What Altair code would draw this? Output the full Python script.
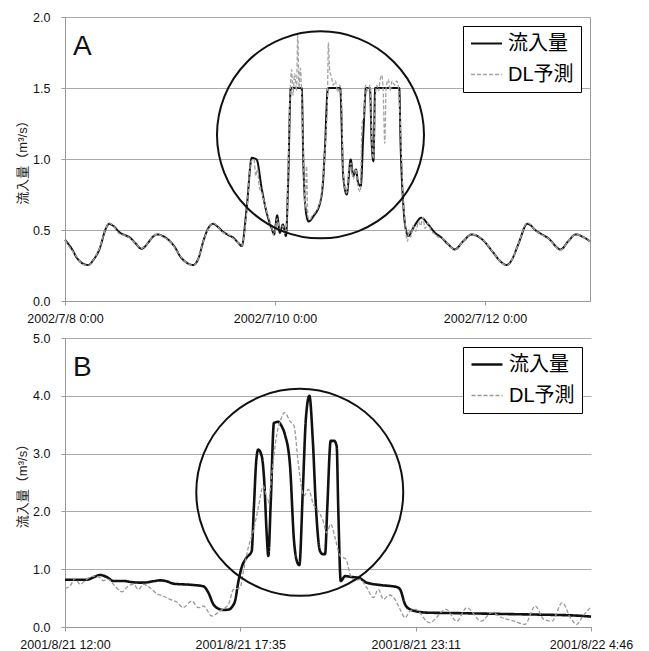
import altair as alt
import pandas as pd

SERIES = ["流入量", "DL予測"]
FONT = "Liberation Sans, Noto Sans CJK JP"
Y_TITLE = "流入量（m³/s）"
TIME_FORMAT = "%Y/%-m/%-d %-H:%M"

# ---------------- Panel A (hours after start) ----------------
A_LABEL = "A"
A_START = "2002-07-08 00:00"
A_END = "2002-07-13 00:00"
A_TICKS = ["2002-07-08 00:00", "2002-07-10 00:00", "2002-07-12 00:00"]
A_YTICKS = [0.0, 0.5, 1.0, 1.5, 2.0]
A_YDOMAIN = [0, 2]
A_CIRCLE = ["2002-07-10 10:24", 1.17]

a_obs_h = [0, 1.5, 2.7, 4, 5.3, 6.5, 8, 9.2, 10.1, 11, 12.6, 14, 14.9, 16, 17.5, 19, 20, 21.1,
           22.5, 24, 25.2, 26.3, 27.8, 29.3, 30.5, 31.6, 32.8, 33.9, 35, 36.2, 37.3, 38.5, 39.6,
           40.4, 41.5, 42.7, 43.8, 45, 46.1, 47.2, 47.8, 48.5, 49.1, 49.8, 50.5, 51.0, 51.6, 54.1,
           54.5, 55.1, 55.7, 56.8, 58.3, 59.0, 59.4, 60.1, 62.9, 63.6, 64.4, 65.3, 65.9, 66.5,
           67.0, 67.6, 68.2, 68.8, 69.7, 70.1, 70.5, 70.9, 76.4, 76.7, 77.3, 77.9, 78.5, 79.6,
           81.5, 83.0, 84.6, 86.1, 87.6, 89.1, 91.0, 93.0, 95.6, 97.9, 99.5, 101, 102.3, 103.6,
           105.7, 107.8, 110.5, 113.3, 115, 116.8, 118.5, 120]
a_obs_v = [0.43, 0.37, 0.305, 0.265, 0.253, 0.29, 0.375, 0.5, 0.544, 0.53, 0.48, 0.46, 0.445,
           0.41, 0.368, 0.41, 0.45, 0.469, 0.455, 0.42, 0.375, 0.316, 0.27, 0.253, 0.3, 0.42,
           0.515, 0.544, 0.52, 0.485, 0.465, 0.445, 0.41, 0.387, 0.645, 1.008, 0.996, 0.785,
           0.621, 0.515, 0.469, 0.603, 0.48, 0.539, 0.457, 0.832, 1.5, 1.5, 0.949, 0.621, 0.56,
           0.598, 0.691, 0.85, 1.067, 1.5, 1.5, 0.879, 0.75, 0.996, 0.879, 0.926, 0.832, 0.809,
           1.184, 1.5, 1.5, 1.113, 0.985, 1.5, 1.5, 1.113, 0.691, 0.504, 0.457, 0.515, 0.586,
           0.539, 0.48, 0.445, 0.399, 0.363, 0.42, 0.469, 0.427, 0.34, 0.28, 0.253, 0.3, 0.399,
           0.544, 0.492, 0.441, 0.363, 0.42, 0.469, 0.45, 0.42]

a_dl_h = [0, 1.5, 2.7, 4, 5.3, 6.5, 8, 9.2, 10.1, 11, 12.6, 14, 14.9, 16, 17.5, 19, 20, 21.1,
          22.5, 24, 25.2, 26.3, 27.8, 29.3, 30.5, 31.6, 32.8, 33.9, 35, 36.2, 37.3, 38.5, 39.6,
          40.4, 41.5, 42.5, 43.2, 43.6, 44.0, 44.4, 45, 46.1, 47.2, 47.8, 48.5, 49.1, 49.8, 50.3,
          50.7, 51.0, 51.4, 51.8, 52.1, 52.5, 52.9, 53.2, 53.5, 53.8, 54.1, 54.5, 54.9, 55.2,
          55.5, 55.9, 56.5, 57.3, 58.3, 59.0, 59.5, 60.0, 60.2, 60.5, 60.9, 61.3, 61.8, 62.3,
          62.8, 63.2, 63.6, 64.4, 65.0, 65.4, 65.9, 66.5, 67.0, 67.5, 67.9, 68.3, 68.7, 69.2,
          69.7, 70.1, 70.5, 70.9, 71.3, 71.7, 72.0, 72.4, 72.7, 73.1, 73.4, 73.9, 74.3, 74.8,
          75.3, 75.8, 76.3, 76.7, 77.0, 77.3, 77.6, 77.9, 78.3, 78.6, 79.0, 79.6, 80.2, 80.8,
          81.3, 81.8, 82.3, 83.0, 83.6, 84.6, 85.3, 86.1, 87.6, 89.1, 91.0, 93.0, 95.6, 97.9,
          99.5, 101, 102.3, 103.6, 105.7, 107.8, 110.5, 113.3, 115, 116.8, 118.5, 120]
a_dl_v = [0.43, 0.36, 0.31, 0.26, 0.25, 0.29, 0.38, 0.5, 0.55, 0.53, 0.47, 0.46, 0.44, 0.41,
          0.37, 0.41, 0.45, 0.47, 0.45, 0.42, 0.37, 0.32, 0.27, 0.25, 0.3, 0.42, 0.51, 0.55, 0.52,
          0.48, 0.47, 0.44, 0.41, 0.39, 0.62, 0.98, 1.0, 0.88, 0.93, 0.8, 0.76, 0.63, 0.52, 0.46,
          0.58, 0.5, 0.53, 0.47, 0.57, 0.9, 1.4, 1.63, 1.45, 1.6, 1.48, 1.87, 1.5, 1.64, 1.45,
          1.0, 0.65, 0.95, 0.6, 0.57, 0.6, 0.63, 0.7, 0.87, 1.1, 1.45, 1.82, 1.62, 1.58, 1.52,
          1.55, 1.47, 1.52, 1.4, 0.9, 0.76, 0.95, 0.97, 0.86, 0.93, 0.8, 0.77, 1.25, 1.3, 1.52,
          1.48, 1.52, 1.15, 1.0, 1.42, 1.52, 1.48, 1.55, 1.59, 1.5, 1.11, 1.5, 1.56, 1.48, 1.55,
          1.52, 1.55, 1.48, 1.2, 0.95, 0.7, 0.6, 0.48, 0.42, 0.5, 0.45, 0.53, 0.49, 0.56, 0.53,
          0.59, 0.51, 0.55, 0.5, 0.47, 0.45, 0.445, 0.4, 0.36, 0.42, 0.47, 0.43, 0.34, 0.28, 0.25,
          0.3, 0.4, 0.55, 0.49, 0.44, 0.36, 0.42, 0.47, 0.45, 0.42]

# ---------------- Panel B (hours after start) ----------------
B_LABEL = "B"
B_START = "2001-08-21 12:00"
B_END = "2001-08-22 04:46"
B_TICKS = ["2001-08-21 12:00", "2001-08-21 17:35", "2001-08-21 23:11", "2001-08-22 04:46"]
B_YTICKS = [0.0, 1.0, 2.0, 3.0, 4.0, 5.0]
B_YDOMAIN = [0, 5]
B_CIRCLE = ["2001-08-21 19:29", 2.33]

b_obs_h = [0, 0.69, 0.95, 1.12, 1.33, 1.54, 1.86, 2.18, 2.5, 2.8, 3.03, 3.25, 3.45, 4.09, 4.41,
           4.57, 4.73, 4.89, 5.05, 5.21, 5.34, 5.42, 5.53, 5.63, 5.79, 5.95, 6.02, 6.1, 6.16,
           6.27, 6.35, 6.43, 6.48, 6.56, 6.66, 6.8, 6.9, 7.01, 7.17, 7.3, 7.39, 7.47, 7.58, 7.68,
           7.79, 7.9, 8.0, 8.13, 8.22, 8.29, 8.36, 8.47, 8.58, 8.66, 8.71, 8.79, 8.93, 9.14, 9.35,
           9.62, 10.04, 10.57, 10.68, 10.84, 11.0, 11.3, 11.55, 12.5, 13.5, 14.5, 15.5, 16.2,
           16.77]
b_obs_v = [0.818, 0.818, 0.87, 0.9, 0.865, 0.796, 0.796, 0.773, 0.767, 0.79, 0.807, 0.79, 0.75,
           0.727, 0.704, 0.594, 0.392, 0.317, 0.295, 0.3, 0.36, 0.45, 0.796, 1.03, 1.2, 1.31,
           2.06, 2.9, 3.07, 2.96, 2.53, 1.6, 1.23, 2.18, 3.53, 3.55, 3.48, 3.33, 2.81, 1.49, 1.14,
           1.07, 2.35, 3.62, 4.0, 3.22, 2.06, 1.31, 1.26, 1.26, 2.06, 3.22, 3.22, 3.13, 2.06,
           0.796, 0.88, 0.865, 0.853, 0.767, 0.727, 0.692, 0.652, 0.392, 0.306, 0.26, 0.248,
           0.24, 0.23, 0.22, 0.21, 0.2, 0.18]

b_dl_h = [0, 0.16, 0.32, 0.48, 0.64, 0.8, 0.96, 1.12, 1.22, 1.38, 1.59, 1.81, 2.02, 2.18, 2.34,
          2.5, 2.71, 2.92, 3.13, 3.35, 3.56, 3.77, 4.04, 4.25, 4.41, 4.68, 4.94, 5.21, 5.37,
          5.58, 5.69, 5.84, 6.0, 6.16, 6.32, 6.48, 6.59, 6.75, 6.86, 7.0, 7.17, 7.3, 7.44, 7.62,
          7.76, 7.92, 8.07, 8.23, 8.34, 8.47, 8.61, 8.77, 8.96, 9.09, 9.25, 9.4, 9.62, 9.83,
          9.99, 10.15, 10.34, 10.52, 10.68, 10.84, 11.0, 11.16, 11.62, 12.15, 12.48, 12.81,
          13.27, 13.6, 13.93, 14.33, 14.66, 14.99, 15.26, 15.52, 15.85, 16.11, 16.31, 16.51,
          16.77]
b_dl_v = [0.67, 0.71, 0.84, 0.74, 0.8, 0.865, 0.88, 0.853, 0.8, 0.825, 0.71, 0.61, 0.71, 0.74,
          0.65, 0.74, 0.68, 0.576, 0.536, 0.479, 0.432, 0.334, 0.45, 0.334, 0.363, 0.19, 0.277,
          0.392, 0.65, 0.68, 0.97, 1.37, 1.66, 2.06, 2.44, 2.15, 2.64, 3.33, 3.56, 3.71, 3.56,
          3.48, 2.81, 2.27, 2.38, 2.12, 2.01, 1.83, 1.63, 1.78, 1.54, 1.23, 1.17, 0.91, 0.8,
          0.825, 0.68, 0.507, 0.65, 0.479, 0.554, 0.479, 0.306, 0.161, 0.277, 0.306, 0.075,
          0.306, 0.1, 0.334, 0.1, 0.248, 0.16, 0.1, 0.046, 0.363, 0.133, 0.1, 0.42, 0.16, 0.046,
          0.19, 0.346]


def dt(s):
    ts = pd.Timestamp(s)
    return alt.DateTime(year=ts.year, month=ts.month, date=ts.day, hours=ts.hour, minutes=ts.minute)


def frame(start, hours, values, name):
    return pd.DataFrame({
        "t": pd.Timestamp(start) + pd.to_timedelta(hours, unit="h"),
        "v": values,
        "series": name,
    })


def panel(label, start, end, ticks, yticks, ydomain, circle, obs_h, obs_v, dl_h, dl_v,
          obs_w, dl_color, w, h, view_stroke):
    x = alt.X("t:T",
              scale=alt.Scale(domain=[dt(start), dt(end)], nice=False),
              axis=alt.Axis(values=[dt(s) for s in ticks], format=TIME_FORMAT, title=None,
                            grid=False, labelFlush=False, labelOverlap=False, tickSize=4,
                            labelPadding=7, labelFont=FONT, labelFontSize=12.5, labelColor="#111",
                            domainColor="#999", tickColor="#999"))
    y = alt.Y("v:Q",
              scale=alt.Scale(domain=ydomain, nice=False),
              axis=alt.Axis(values=yticks, format=".1f", title=Y_TITLE, titleFont=FONT,
                            titleFontSize=13, titleFontWeight="normal", titleColor="#222",
                            titlePadding=3, labelFont=FONT, labelFontSize=12.5, labelColor="#111",
                            labelPadding=11, tickSize=4, gridColor="#aaa", domainColor="#999",
                            tickColor="#999"))
    leg = alt.Legend(orient="top-right", offset=9, title=None, symbolType="stroke",
                     symbolSize=961, labelFont=FONT, labelFontSize=20, labelColor="#000",
                     labelOffset=5, padding=7, rowPadding=10, clipHeight=21,
                     strokeColor="#000", fillColor="#fff")
    color = alt.Color("series:N", scale=alt.Scale(domain=SERIES, range=["#111", dl_color]),
                      legend=leg)
    dash = alt.StrokeDash("series:N", scale=alt.Scale(domain=SERIES, range=[[1, 0], [4, 2]]),
                          legend=leg)
    width = alt.StrokeWidth("series:N", scale=alt.Scale(domain=SERIES, range=[obs_w, 1.3]),
                            legend=leg)

    obs = alt.Chart(frame(start, obs_h, obs_v, SERIES[0])).mark_line(
        interpolate="monotone").encode(x=x, y=y, color=color, strokeDash=dash, strokeWidth=width)
    dl = alt.Chart(frame(start, dl_h, dl_v, SERIES[1])).mark_line(
        interpolate="monotone").encode(x=x, y=y, color=color, strokeDash=dash, strokeWidth=width)
    circ_df = pd.DataFrame({"t": [pd.Timestamp(circle[0])], "v": [circle[1]]})
    circ = alt.Chart(circ_df).mark_point(shape="circle", filled=False, size=42849,
                                         color="#111", strokeWidth=2, opacity=1).encode(
        x="t:T", y="v:Q")
    txt = alt.Chart(pd.DataFrame({"label": [label]})).mark_text(
        font="Liberation Sans", fontSize=28, align="left", baseline="alphabetic",
        color="#111").encode(x=alt.value(8), y=alt.value(38), text="label:N")
    return alt.layer(obs, dl, circ, txt).properties(
        width=w, height=h, view=alt.ViewBackground(stroke=view_stroke, strokeWidth=1))


chart_a = panel(A_LABEL, A_START, A_END, A_TICKS, A_YTICKS, A_YDOMAIN, A_CIRCLE,
                a_obs_h, a_obs_v, a_dl_h, a_dl_v, 2.0, "#a3a3a3", 525, 284, "#999")
chart_b = panel(B_LABEL, B_START, B_END, B_TICKS, B_YTICKS, B_YDOMAIN, B_CIRCLE,
                b_obs_h, b_obs_v, b_dl_h, b_dl_v, 2.6, "#999999", 526, 289, "transparent")

chart = alt.vconcat(chart_a, chart_b, spacing=6).resolve_scale(
    color="independent", strokeDash="independent", strokeWidth="independent"
).resolve_legend(
    color="independent", strokeDash="independent", strokeWidth="independent"
).properties(
    padding={"left": 8, "top": 2, "right": 0, "bottom": 0}
).configure(background="white")

chart.save("out.html", embed_options={"renderer": "svg", "actions": False})
